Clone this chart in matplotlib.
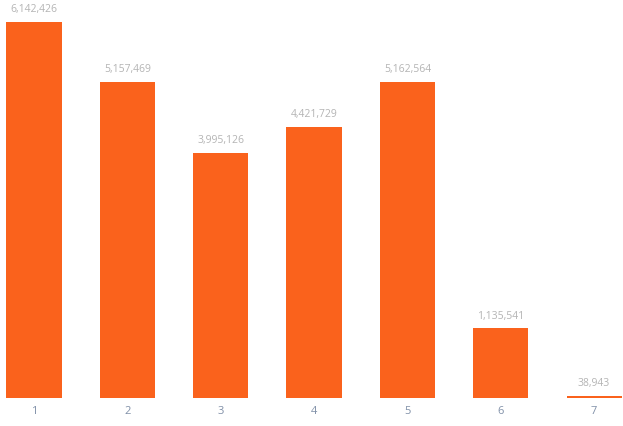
import matplotlib.pyplot as plt

# データ
categories = ['1', '2', '3', '4', '5', '6', '7']
values = [6142426, 5157469, 3995126, 4421729, 5162564, 1135541, 38943]

fig = plt.figure(figsize=(6.23, 4.26), dpi=100)
ax = fig.add_axes([0, 28 / 426, 1, 398 / 426])

x = range(1, len(categories) + 1)
ax.bar(x, values, width=0.59, color='#fa621c')

# 値ラベル
for xi, v in zip(x, values):
    ax.annotate(f'{v:,}', (xi, v), xytext=(0, 5), textcoords='offset points',
                ha='center', va='bottom', fontsize=7.5, color='#b4b4b4',
                family='Open Sans')

ax.set_xlim(0.636, 7.31)
ax.set_ylim(0, 6142426 * 398 / 376)
ax.set_xticks(list(x))
ax.set_xticklabels(categories, fontsize=8, color='#8090a8', family='Open Sans')
ax.tick_params(axis='x', length=0, pad=6)
ax.set_yticks([])
for s in ax.spines.values():
    s.set_visible(False)

plt.savefig('out.png', format='png')
